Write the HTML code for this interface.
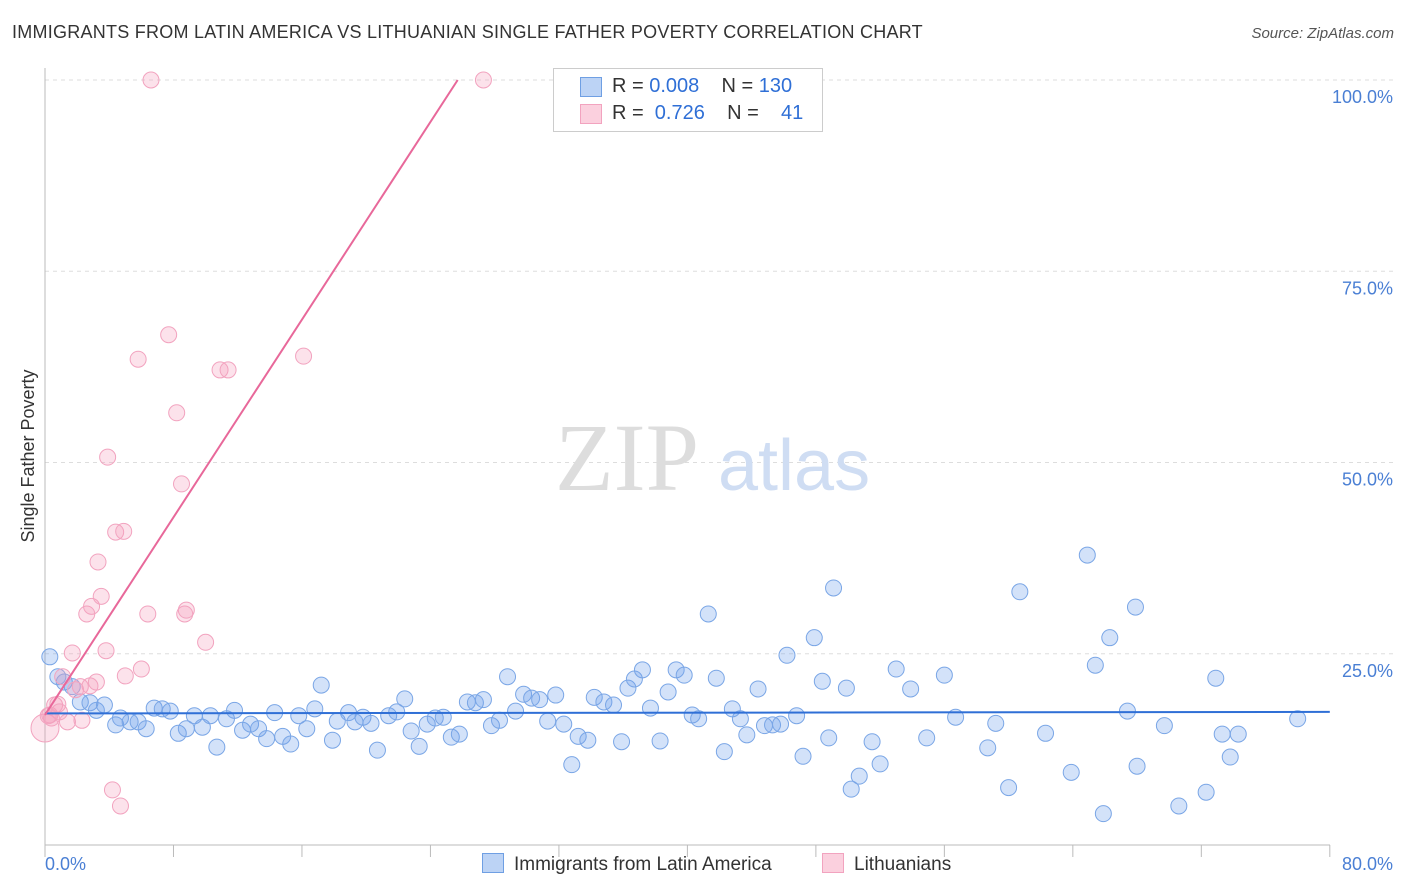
<!DOCTYPE html>
<html><head><meta charset="utf-8"><style>
body{margin:0;background:#fff;font-family:"Liberation Sans",sans-serif;}
#c{position:relative;width:1406px;height:892px;overflow:hidden;}
</style></head><body>
<div id="c">
<div style="position:absolute;left:12px;top:22px;font-size:18px;color:#333;letter-spacing:0.25px">IMMIGRANTS FROM LATIN AMERICA VS LITHUANIAN SINGLE FATHER POVERTY CORRELATION CHART</div>
<div style="position:absolute;right:12px;top:25px;font-size:15px;color:#555;font-style:italic">Source: ZipAtlas.com</div>
<svg id="s" width="1406" height="892" style="position:absolute;left:0;top:0"></svg>
</div>
<script>
const xTicks=[0,8,16,24,32,40,48,56,64,72,80];
const yTicks=[25,50,75,100];
const blueX=[0.3,0.8,1.2,1.7,2.2,2.8,3.2,3.7,4.4,4.7,5.3,5.8,6.3,6.8,7.3,7.8,8.3,8.8,9.3,9.8,10.3,10.7,11.3,11.8,12.3,12.8,13.3,13.8,14.3,14.8,15.3,15.8,16.3,16.8,17.2,17.9,18.2,18.9,19.3,19.8,20.3,20.7,21.4,21.9,22.4,22.8,23.3,23.8,24.3,24.8,25.3,25.8,26.3,26.8,27.3,27.8,28.3,28.8,29.3,29.8,30.3,30.8,31.3,31.8,32.3,32.8,33.2,33.8,34.2,34.8,35.4,35.9,36.3,36.7,37.2,37.7,38.3,38.8,39.3,39.8,40.3,40.7,41.3,41.8,42.3,42.8,43.3,43.7,44.4,44.8,45.3,45.8,46.2,46.8,47.2,47.9,48.4,48.8,49.1,49.9,50.2,50.7,51.5,52.0,53.0,53.9,54.9,56.0,56.7,58.7,59.2,60.0,60.7,62.3,63.9,64.9,65.4,65.9,66.3,67.4,67.9,68.0,69.7,70.6,72.3,72.9,73.3,73.8,74.3,78.0];
const blueY=[24.6,22.0,21.3,20.7,18.7,18.6,17.6,18.3,15.7,16.6,16.1,16.1,15.2,17.9,17.8,17.5,14.6,15.2,16.9,15.4,16.9,12.8,16.5,17.6,15.0,15.8,15.2,13.9,17.3,14.2,13.2,16.9,15.2,17.8,20.9,13.7,16.2,17.3,16.1,16.7,15.9,12.4,16.9,17.4,19.1,14.9,12.9,15.8,16.6,16.7,14.1,14.5,18.7,18.6,19.0,15.6,16.3,22.0,17.5,19.7,19.2,19.0,16.2,19.6,15.8,10.5,14.2,13.7,19.3,18.7,18.3,13.5,20.5,21.7,22.9,17.9,13.6,20.0,22.9,22.2,17.0,16.5,30.2,21.8,12.2,17.8,16.5,14.4,20.4,15.6,15.7,15.8,24.8,16.9,11.6,27.1,21.4,14.0,33.6,20.5,7.3,9.0,13.5,10.6,23.0,20.4,14.0,22.2,16.7,12.7,15.9,7.5,33.1,14.6,9.5,37.9,23.5,4.1,27.1,17.5,31.1,10.3,15.6,5.1,6.9,21.8,14.5,11.5,14.5,16.5];
const pinkX=[0,0.3,0.6,0.4,0.8,1.1,1.4,1.7,1.9,2.2,2.3,2.6,2.9,2.8,3.2,3.3,3.5,3.8,3.9,4.2,4.4,4.7,4.9,5.0,5.8,6.0,6.4,6.6,7.7,8.2,8.5,8.7,8.8,10.0,10.9,11.4,16.1,27.3,0.9,0.2];
const pinkY=[15.3,17.0,18.3,16.6,18.4,22.0,16.1,25.1,20.3,20.7,16.3,30.2,31.2,20.8,21.3,37.0,32.5,25.4,50.7,7.2,40.9,5.1,41.0,22.1,63.5,23.0,30.2,100,66.7,56.5,47.2,30.2,30.7,26.5,62.1,62.1,63.9,100,17.4,16.9];
const blueTrend=[17.2,17.4];
const pinkTrend=[17.0,3.23];
const X=v=>45+v*16.06, Y=v=>845-v*7.65;
const s=document.getElementById('s'),NS='http://www.w3.org/2000/svg';
function mk(t,a){const e=document.createElementNS(NS,t);for(const k in a)e.setAttribute(k,a[k]);s.appendChild(e);return e;}
yTicks.forEach(t=>{
 const g=mk('line',{x1:45,x2:1395,y1:Y(t),y2:Y(t),stroke:'#ddd','stroke-dasharray':'4,4'});
 
 
 const l=mk('text',{x:1393,y:Y(t)+23,'text-anchor':'end','font-size':18,fill:'#4a7fd4','font-family':'Liberation Sans'});
 l.textContent=t.toFixed(1)+'%';
 
 
});
const ax=mk('line',{x1:45,x2:45,y1:68,y2:845,stroke:'#bbb'});


const bx=mk('line',{x1:45,x2:1330,y1:845,y2:845,stroke:'#bbb'});


xTicks.forEach(t=>{const e=mk('line',{x1:X(t),x2:X(t),y1:845,y2:857,stroke:'#bbb'});
 
 });
[[0,'0.0%','start',45],[80,'80.0%','end',1393]].forEach(a=>{const l=mk('text',{x:a[3],y:870,'text-anchor':a[2],'font-size':18,fill:'#4a7fd4','font-family':'Liberation Sans'});l.textContent=a[1];
 
 });
const yt=mk('text',{x:34,y:456,transform:'rotate(-90 34 456)','text-anchor':'middle','font-size':18,fill:'#333','font-family':'Liberation Sans'});yt.textContent='Single Father Poverty';


const w1=mk('text',{x:555,y:490,'font-size':96,fill:'#ddd','font-family':'Liberation Serif'});w1.textContent='ZIP';


const w2=mk('text',{x:718,y:490,'font-size':72,fill:'#cfddf3','font-family':'Liberation Sans'});w2.textContent='atlas';


blueX.forEach((x,i)=>{const c=mk('circle',{cx:X(x),cy:Y(blueY[i]),r:8,fill:'rgba(110,160,235,0.3)',stroke:'#7aa6e6','stroke-width':1});
 
 });
pinkX.forEach((x,i)=>{const c=mk('circle',{cx:X(x),cy:Y(pinkY[i]),r:i==0?14:8,fill:'rgba(245,160,190,0.3)',stroke:'#f2a3bf','stroke-width':1});
 
 });
const bl=mk('line',{x1:X(0),x2:X(80),y1:Y(blueTrend[0]),y2:Y(blueTrend[1]),stroke:'#2f6fd6','stroke-width':2});


const xe=(100-pinkTrend[0])/pinkTrend[1];
const pl=mk('line',{x1:X(0),x2:X(xe),y1:Y(pinkTrend[0]),y2:Y(100),stroke:'#e8689a','stroke-width':2});


</script>
<div style="position:absolute;left:553px;top:68px;width:268px;height:62px;border:1px solid #ccc;background:#fff;font-size:20px;color:#333">
 <div style="position:absolute;left:26px;top:8px;width:20px;height:18px;background:#bcd3f5;border:1px solid #6f9fe3"></div>
 <div style="position:absolute;left:58px;top:6px;white-space:nowrap">R = <span style="color:#2f6fd6">0.008</span>&nbsp;&nbsp;&nbsp;&nbsp;N = <span style="color:#2f6fd6">130</span></div>
 <div style="position:absolute;left:26px;top:35px;width:20px;height:18px;background:#fbd0de;border:1px solid #f2a3bf"></div>
 <div style="position:absolute;left:58px;top:33px;white-space:nowrap">R = &nbsp;<span style="color:#2f6fd6">0.726</span>&nbsp;&nbsp;&nbsp;&nbsp;N = &nbsp;&nbsp;&nbsp;<span style="color:#2f6fd6">41</span></div>
</div>
<div style="position:absolute;top:853px;left:482px;font-size:19px;color:#333">
 <span style="position:absolute;left:0;top:0;white-space:nowrap"><span style="display:inline-block;width:20px;height:18px;background:#bcd3f5;border:1px solid #6f9fe3;vertical-align:-3px;margin-right:10px"></span>Immigrants from Latin America</span>
 <span style="position:absolute;left:340px;top:0;white-space:nowrap"><span style="display:inline-block;width:20px;height:18px;background:#fbd0de;border:1px solid #f2a3bf;vertical-align:-3px;margin-right:10px"></span>Lithuanians</span>
</div>
</body></html>
